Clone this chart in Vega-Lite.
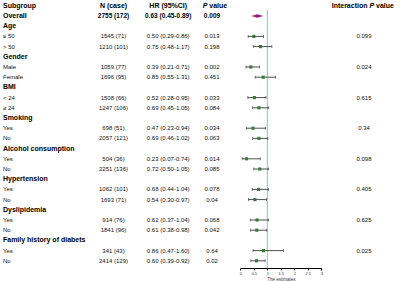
{
  "$schema": "https://vega.github.io/schema/vega-lite/v6.json",
  "width": 400,
  "height": 268,
  "autosize": {"type": "none"},
  "padding": {"left": 0, "top": 0, "right": 0, "bottom": 13},
  "background": "white",
  "config": {"font": "Liberation Sans", "view": {"stroke": null}},
  "data": {"values": [
    {"row": 0, "type": "head", "label": "Subgroup", "n": "N (case)", "hr": "HR (95%CI)", "p": "", "int": ""},
    {"row": 1, "type": "overall", "label": "Overall", "n": "2755 (172)", "hr": "0.63 (0.45-0.89)", "p": "0.009", "int": "", "est": 0.63, "lo": 0.45, "hi": 0.89},
    {"row": 2, "type": "group", "label": "Age", "n": "", "hr": "", "p": "", "int": ""},
    {"row": 3, "type": "sub", "label": "≤ 50", "n": "1545 (71)", "hr": "0.50 (0.29-0.86)", "p": "0.013", "int": "0.099", "est": 0.50, "lo": 0.29, "hi": 0.86},
    {"row": 4, "type": "sub", "label": "> 50", "n": "1210 (101)", "hr": "0.75 (0.48-1.17)", "p": "0.198", "int": "", "est": 0.75, "lo": 0.48, "hi": 1.17},
    {"row": 5, "type": "group", "label": "Gender", "n": "", "hr": "", "p": "", "int": ""},
    {"row": 6, "type": "sub", "label": "Male", "n": "1059 (77)", "hr": "0.39 (0.21-0.71)", "p": "0.002", "int": "0.024", "est": 0.39, "lo": 0.21, "hi": 0.71},
    {"row": 7, "type": "sub", "label": "Female", "n": "1696 (95)", "hr": "0.85 (0.55-1.31)", "p": "0.451", "int": "", "est": 0.85, "lo": 0.55, "hi": 1.31},
    {"row": 8, "type": "group", "label": "BMI", "n": "", "hr": "", "p": "", "int": ""},
    {"row": 9, "type": "sub", "label": "< 24", "n": "1508 (66)", "hr": "0.52 (0.28-0.95)", "p": "0.033", "int": "0.615", "est": 0.52, "lo": 0.28, "hi": 0.95},
    {"row": 10, "type": "sub", "label": "≥ 24", "n": "1247 (106)", "hr": "0.69 (0.45-1.05)", "p": "0.084", "int": "", "est": 0.69, "lo": 0.45, "hi": 1.05},
    {"row": 11, "type": "group", "label": "Smoking", "n": "", "hr": "", "p": "", "int": ""},
    {"row": 12, "type": "sub", "label": "Yes", "n": "698 (51)", "hr": "0.47 (0.23-0.94)", "p": "0.034", "int": "0.34", "est": 0.47, "lo": 0.23, "hi": 0.94},
    {"row": 13, "type": "sub", "label": "No", "n": "2057 (121)", "hr": "0.69 (0.46-1.02)", "p": "0.063", "int": "", "est": 0.69, "lo": 0.46, "hi": 1.02},
    {"row": 14, "type": "group", "label": "Alcohol consumption", "n": "", "hr": "", "p": "", "int": ""},
    {"row": 15, "type": "sub", "label": "Yes", "n": "504 (36)", "hr": "0.23 (0.07-0.74)", "p": "0.014", "int": "0.098", "est": 0.23, "lo": 0.07, "hi": 0.74},
    {"row": 16, "type": "sub", "label": "No", "n": "2251 (136)", "hr": "0.72 (0.50-1.05)", "p": "0.085", "int": "", "est": 0.72, "lo": 0.50, "hi": 1.05},
    {"row": 17, "type": "group", "label": "Hypertension", "n": "", "hr": "", "p": "", "int": ""},
    {"row": 18, "type": "sub", "label": "Yes", "n": "1062 (101)", "hr": "0.68 (0.44-1.04)", "p": "0.078", "int": "0.405", "est": 0.68, "lo": 0.44, "hi": 1.04},
    {"row": 19, "type": "sub", "label": "No", "n": "1693 (71)", "hr": "0.54 (0.30-0.97)", "p": "0.04", "int": "", "est": 0.54, "lo": 0.30, "hi": 0.97},
    {"row": 20, "type": "group", "label": "Dyslipidemia", "n": "", "hr": "", "p": "", "int": ""},
    {"row": 21, "type": "sub", "label": "Yes", "n": "914 (76)", "hr": "0.62 (0.37-1.04)", "p": "0.068", "int": "0.625", "est": 0.62, "lo": 0.37, "hi": 1.04},
    {"row": 22, "type": "sub", "label": "No", "n": "1841 (96)", "hr": "0.61 (0.38-0.98)", "p": "0.042", "int": "", "est": 0.61, "lo": 0.38, "hi": 0.98},
    {"row": 23, "type": "group", "label": "Family history of diabets", "n": "", "hr": "", "p": "", "int": ""},
    {"row": 24, "type": "sub", "label": "Yes", "n": "341 (43)", "hr": "0.86 (0.47-1.60)", "p": "0.64", "int": "0.025", "est": 0.86, "lo": 0.47, "hi": 1.60},
    {"row": 25, "type": "sub", "label": "No", "n": "2414 (129)", "hr": "0.60 (0.39-0.92)", "p": "0.02", "int": "", "est": 0.60, "lo": 0.39, "hi": 0.92}
  ]},
  "encoding": {
    "y": {"field": "row", "type": "quantitative", "scale": {"domain": [-0.569, 25.706], "reverse": true}, "axis": null}
  },
  "layer": [
    {
      "transform": [{"filter": "datum.type != 'sub'"}],
      "mark": {"type": "text", "align": "left", "baseline": "middle", "fontWeight": "bold", "fontSize": 7, "color": "black"},
      "encoding": {"x": {"datum": -8.79, "type": "quantitative", "scale": {"domain": [0, 3], "range": [240.3, 321.3]}, "axis": {"values": [0, 0.5, 1, 1.5, 2, 2.5, 3], "labelExpr": "datum.value", "title": "The estimates", "titleFontSize": 4.5, "titleFontWeight": "normal", "titlePadding": 1, "labelFontSize": 4, "labelPadding": 1, "tickSize": 2, "tickColor": "black", "domainColor": "black", "labelColor": "#333", "titleColor": "#333", "grid": false, "labelFlush": false}}, "text": {"field": "label"}}
    },
    {
      "transform": [{"filter": "datum.type == 'sub'"}],
      "mark": {"type": "text", "align": "left", "baseline": "middle", "fontSize": 6, "color": "#111"},
      "encoding": {"x": {"datum": -8.79, "type": "quantitative"}, "text": {"field": "label"}}
    },
    {
      "transform": [{"filter": "datum.type == 'head'"}],
      "mark": {"type": "text", "align": "center", "baseline": "middle", "fontWeight": "bold", "fontSize": 7, "color": "black"},
      "encoding": {"x": {"datum": -4.696, "type": "quantitative"}, "text": {"field": "n"}}
    },
    {
      "transform": [{"filter": "datum.type == 'head'"}],
      "mark": {"type": "text", "align": "center", "baseline": "middle", "fontWeight": "bold", "fontSize": 7, "color": "black"},
      "encoding": {"x": {"datum": -2.67, "type": "quantitative"}, "text": {"field": "hr"}}
    },
    {
      "transform": [{"filter": "datum.type == 'head'"}],
      "mark": {"type": "text", "align": "left", "baseline": "middle", "fontWeight": "bold", "fontStyle": "italic", "fontSize": 7, "color": "black", "text": "P"},
      "encoding": {"x": {"datum": -1.393, "type": "quantitative"}}
    },
    {
      "transform": [{"filter": "datum.type == 'head'"}],
      "mark": {"type": "text", "align": "left", "baseline": "middle", "fontWeight": "bold", "fontSize": 7, "color": "black", "text": "value"},
      "encoding": {"x": {"datum": -1.148, "type": "quantitative"}}
    },
    {
      "transform": [{"filter": "datum.type == 'head'"}],
      "mark": {"type": "text", "align": "left", "baseline": "middle", "fontWeight": "bold", "fontSize": 7, "color": "black", "text": "Interaction"},
      "encoding": {"x": {"datum": 3.385, "type": "quantitative"}}
    },
    {
      "transform": [{"filter": "datum.type == 'head'"}],
      "mark": {"type": "text", "align": "left", "baseline": "middle", "fontWeight": "bold", "fontStyle": "italic", "fontSize": 7, "color": "black", "text": "P"},
      "encoding": {"x": {"datum": 4.781, "type": "quantitative"}}
    },
    {
      "transform": [{"filter": "datum.type == 'head'"}],
      "mark": {"type": "text", "align": "left", "baseline": "middle", "fontWeight": "bold", "fontSize": 7, "color": "black", "text": "value"},
      "encoding": {"x": {"datum": 5.026, "type": "quantitative"}}
    },
    {
      "transform": [{"filter": "datum.type == 'overall'"}],
      "mark": {"type": "text", "align": "center", "baseline": "middle", "fontWeight": "bold", "fontSize": 6.5, "color": "black"},
      "encoding": {"x": {"datum": -4.696, "type": "quantitative"}, "text": {"field": "n"}}
    },
    {
      "transform": [{"filter": "datum.type == 'overall'"}],
      "mark": {"type": "text", "align": "center", "baseline": "middle", "fontWeight": "bold", "fontSize": 6.5, "color": "black"},
      "encoding": {"x": {"datum": -2.67, "type": "quantitative"}, "text": {"field": "hr"}}
    },
    {
      "transform": [{"filter": "datum.type == 'overall'"}],
      "mark": {"type": "text", "align": "center", "baseline": "middle", "fontWeight": "bold", "fontSize": 6.5, "color": "black"},
      "encoding": {"x": {"datum": -1.048, "type": "quantitative"}, "text": {"field": "p"}}
    },
    {
      "transform": [{"filter": "datum.type == 'sub'"}],
      "mark": {"type": "text", "align": "center", "baseline": "middle", "fontSize": 6, "color": "#111"},
      "encoding": {"x": {"datum": -4.696, "type": "quantitative"}, "text": {"field": "n"}}
    },
    {
      "transform": [{"filter": "datum.type == 'sub'"}],
      "mark": {"type": "text", "align": "center", "baseline": "middle", "fontSize": 6, "color": "#111"},
      "encoding": {"x": {"datum": -2.67, "type": "quantitative"}, "text": {"field": "hr"}}
    },
    {
      "transform": [{"filter": "datum.type == 'sub'"}],
      "mark": {"type": "text", "align": "center", "baseline": "middle", "fontSize": 6, "color": "#111"},
      "encoding": {"x": {"datum": -1.048, "type": "quantitative"}, "text": {"field": "p"}}
    },
    {
      "transform": [{"filter": "datum.type == 'sub'"}],
      "mark": {"type": "text", "align": "center", "baseline": "middle", "fontSize": 6, "color": "#111"},
      "encoding": {"x": {"datum": 4.581, "type": "quantitative"}, "text": {"field": "int"}}
    },
    {
      "transform": [{"filter": "datum.type == 'head'"}],
      "mark": {"type": "rule", "color": "#7cc6d6", "strokeWidth": 1},
      "encoding": {"x": {"datum": 1, "type": "quantitative"}, "y": {"datum": 0.4, "type": "quantitative"}, "y2": {"datum": 25.706}}
    },
    {
      "transform": [{"filter": "datum.type == 'sub'"}],
      "mark": {"type": "rule", "color": "#222", "strokeWidth": 0.8},
      "encoding": {"x": {"field": "lo", "type": "quantitative"}, "x2": {"field": "hi"}}
    },
    {
      "transform": [{"filter": "datum.type == 'sub'"}],
      "mark": {"type": "tick", "orient": "vertical", "color": "#222", "size": 3, "thickness": 0.8},
      "encoding": {"x": {"field": "lo", "type": "quantitative"}}
    },
    {
      "transform": [{"filter": "datum.type == 'sub'"}],
      "mark": {"type": "tick", "orient": "vertical", "color": "#222", "size": 3, "thickness": 0.8},
      "encoding": {"x": {"field": "hi", "type": "quantitative"}}
    },
    {
      "transform": [{"filter": "datum.type == 'sub'"}],
      "mark": {"type": "point", "shape": "square", "filled": true, "size": 10, "color": "#3b7a3b", "opacity": 1},
      "encoding": {"x": {"field": "est", "type": "quantitative"}}
    },
    {
      "transform": [{"filter": "datum.type == 'overall'"}],
      "mark": {"type": "point", "shape": "M-1,0L0,-0.28L1,0L0,0.28Z", "filled": true, "size": 144, "color": "#9c1f8c", "opacity": 1},
      "encoding": {"x": {"field": "est", "type": "quantitative"}}
    }
  ]
}
